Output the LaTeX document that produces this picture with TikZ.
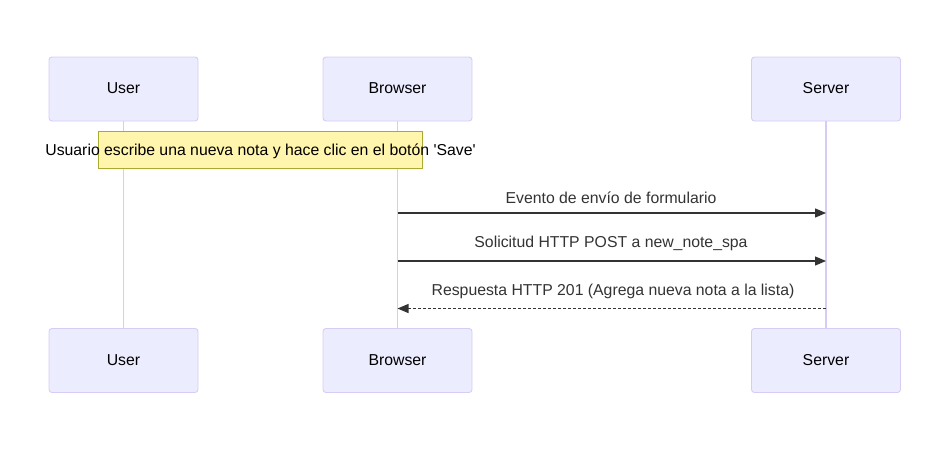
\documentclass[tikz,border=0pt]{standalone}
\usepackage{fontspec}
\setmainfont{Liberation Sans}
\usetikzlibrary{arrows.meta}
\definecolor{actfill}{HTML}{ECECFF}
\definecolor{actline}{HTML}{D7CCF5}
\definecolor{notefill}{HTML}{FFF5AD}
\definecolor{noteline}{HTML}{AAAA33}
\definecolor{msg}{HTML}{333333}
\begin{document}
\begin{tikzpicture}[x=1pt,y=-1pt,
  actor/.style={draw=actline,fill=actfill,line width=0.9pt,rounded corners=3pt,minimum width=149pt,minimum height=64pt,inner sep=0pt,font=\fontsize{15.8}{19}\selectfont,text depth=2pt,text height=11.4pt},
  life/.style={draw=actline,line width=1.6pt},
  msgline/.style={draw=msg,line width=1.3pt,-{Triangle[length=11pt,width=9pt]}},
  msglabel/.style={font=\fontsize{15.8}{19}\selectfont,text=msg,inner sep=0pt}]
\useasboundingbox (0,0) rectangle (950,451);
% lifelines
\coordinate (ut) at (123.5,121); \coordinate (ub) at (123.5,328);
\coordinate (bt) at (397.5,121); \coordinate (bb) at (397.5,328);
\coordinate (st) at (826,121); \coordinate (sb) at (826,328);
\draw[life] (ut) -- (ub);
\draw[life] (bt) -- (bb);
\draw[life] (st) -- (sb);
% actors
\node[actor] (u1) at (123.5,89) {User};
\node[actor] (b1) at (397.5,89) {Browser};
\node[actor] (s1) at (826,89) {Server};
\node[actor] (u2) at (123.5,360.5) {User};
\node[actor] (b2) at (397.5,360.5) {Browser};
\node[actor] (s2) at (826,360.5) {Server};
% note
\node[draw=noteline,fill=notefill,line width=0.9pt,minimum width=324pt,minimum height=37pt,inner sep=0pt] (note) at (260,149.5) {};
\node[font=\fontsize{15.8}{19}\selectfont,inner sep=0pt] (notetext) at (260.5,151) {Usuario escribe una nueva nota y hace clic en el botón \textquotesingle Save\textquotesingle};
% messages
\coordinate (m1a) at (397.5,213); \coordinate (m1b) at (826,213);
\coordinate (m2a) at (397.5,261); \coordinate (m2b) at (826,261);
\coordinate (m3a) at (826,308.5); \coordinate (m3b) at (397.5,308.5);
\draw[msgline] (m1a) -- (m1b);
\draw[msgline] (m2a) -- (m2b);
\draw[msgline,dash pattern=on 3pt off 2pt] (m3a) -- (m3b);
\node[msglabel] (l1) at (611,198) {Evento de envío de formulario};
\node[msglabel] (l2) at (611,243.5) {Solicitud HTTP POST a new\_note\_spa};
\node[msglabel] (l3) at (613,291.5) {Respuesta HTTP 201 (Agrega nueva nota a la lista)};
\end{tikzpicture}
\end{document}
